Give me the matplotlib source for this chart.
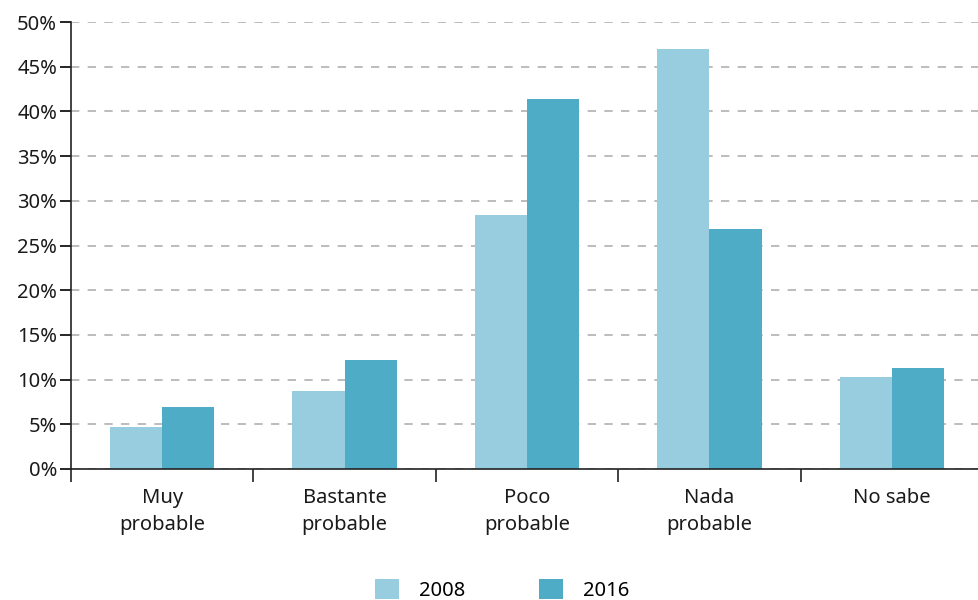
import numpy as np
import matplotlib.pyplot as plt
from matplotlib.ticker import FixedLocator, PercentFormatter

categories = ["Muy\nprobable", "Bastante\nprobable", "Poco\nprobable", "Nada\nprobable", "No sabe"]
values_2008 = [4.7, 8.7, 28.4, 47.0, 10.3]
values_2016 = [6.9, 12.2, 41.4, 26.8, 11.3]
yticks = [0, 5, 10, 15, 20, 25, 30, 35, 40, 45, 50]

plt.rcParams['font.family'] = ['Noto Sans', 'DejaVu Sans']

fig = plt.figure(figsize=(9.79, 6), dpi=100)
ax = fig.add_axes([71 / 979, 1 - 469 / 600, 1 - 71 / 979 + 0.004, (469 - 22) / 600])

x = np.arange(len(categories))
w = 0.286
ax.bar(x - w / 2, values_2008, w, color="#97cddf", label="2008", zorder=2)
ax.bar(x + w / 2, values_2016, w, color="#4facc7", label="2016", zorder=2)

ax.set_xlim(-0.5, len(categories) - 0.5)
ax.set_ylim(0, 50)
ax.set_yticks(yticks)
ax.yaxis.set_major_formatter(PercentFormatter(decimals=0))
ax.grid(axis="y", linestyle=(0, (5, 5)), color="#b0b0b0", linewidth=1.2, zorder=0)
ax.set_axisbelow(True)

ax.set_xticks(x)
ax.set_xticklabels(categories, fontsize=14.5, color="#1a1a1a", linespacing=1.45)
ax.tick_params(axis="x", which="major", length=0, pad=14)
ax.xaxis.set_minor_locator(FixedLocator(np.arange(-0.5, len(categories) - 0.4, 1)))
ax.tick_params(axis="x", which="minor", length=9, width=1.2, color="#222222")
ax.tick_params(axis="y", labelsize=14.5, labelcolor="#1a1a1a", length=8, width=1.2, pad=2)

for s in ["top", "right"]:
    ax.spines[s].set_visible(False)
for s in ["left", "bottom"]:
    ax.spines[s].set_linewidth(1.2)
    ax.spines[s].set_color("#222222")

fig.legend(loc="center", bbox_to_anchor=(0.513, 0.017), ncol=2, frameon=False,
           fontsize=14.5, handlelength=1.15, handleheight=1.15, handletextpad=1.0,
           columnspacing=3.7)

fig.savefig("out.png", dpi=100)
